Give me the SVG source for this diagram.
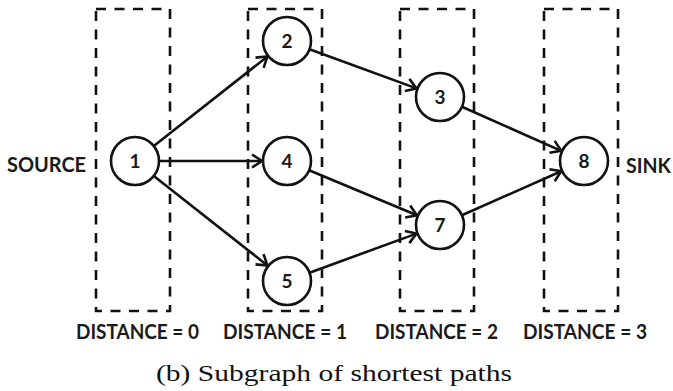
<svg xmlns="http://www.w3.org/2000/svg" width="673" height="391" viewBox="0 0 673 391">
<style>
.box{fill:none;stroke:#111;stroke-width:2.6;stroke-dasharray:10 8.5}
.node circle{fill:#fff;stroke:#111;stroke-width:2.6}
.node text{font-family:Lato,"Open Sans",sans-serif;font-weight:bold;font-size:19px;fill:#1a1a1a;text-anchor:middle}
.lbl{font-family:Lato,"Open Sans",sans-serif;font-weight:bold;fill:#1a1a1a}
.edges line{stroke:#111;stroke-width:2.6;marker-end:url(#arr)}
.cap{font-family:"Liberation Serif","DejaVu Serif",serif;font-size:23px;fill:#111}
</style>
<defs>
<marker id="arr" markerUnits="userSpaceOnUse" viewBox="-13 -9 16 18" markerWidth="16" markerHeight="18" refX="0" refY="0" orient="auto">
<path d="M-10,-6.5 L0,0 L-10,6.5" fill="none" stroke="#111" stroke-width="2.6" stroke-linejoin="miter"/>
</marker>
</defs>
<g id="columns">
<rect class="box" x="96" y="9" width="74" height="302"/>
<rect class="box" x="248" y="9" width="74" height="302"/>
<rect class="box" x="400" y="9" width="74" height="302"/>
<rect class="box" x="544" y="9" width="74" height="302"/>
</g>
<g id="connectors" class="edges">
<line x1="153.8" y1="146.1" x2="267.4" y2="56.5"/>
<line x1="159" y1="161" x2="262" y2="161"/>
<line x1="153.8" y1="175.9" x2="267.4" y2="265.5"/>
<line x1="309.5" y1="49.3" x2="416.5" y2="88.4"/>
<line x1="309.1" y1="170.3" x2="416.9" y2="215.3"/>
<line x1="309.5" y1="272.7" x2="416.5" y2="233.6"/>
<line x1="461.9" y1="106.7" x2="561.2" y2="150.9"/>
<line x1="461.9" y1="215.3" x2="561.2" y2="171.2"/>
</g>
<g id="n1" class="node"><circle cx="135" cy="161" r="24"/><text x="135" y="168">1</text></g>
<g id="n2" class="node"><circle cx="287" cy="41" r="24"/><text x="287" y="48">2</text></g>
<g id="n4" class="node"><circle cx="287" cy="161" r="24"/><text x="287" y="168">4</text></g>
<g id="n5" class="node"><circle cx="287" cy="281" r="24"/><text x="287" y="288">5</text></g>
<g id="n3" class="node"><circle cx="440" cy="97" r="24"/><text x="440" y="104">3</text></g>
<g id="n7" class="node"><circle cx="440" cy="225" r="24"/><text x="440" y="232">7</text></g>
<g id="n8" class="node"><circle cx="584" cy="161" r="24"/><text x="584" y="168">8</text></g>
<text class="lbl" x="7" y="171.5" font-size="21" textLength="79" lengthAdjust="spacingAndGlyphs">SOURCE</text>
<text class="lbl" x="626" y="172.5" font-size="21" textLength="45" lengthAdjust="spacingAndGlyphs">SINK</text>
<text class="lbl" x="76" y="339" font-size="20" textLength="123" lengthAdjust="spacingAndGlyphs">DISTANCE = 0</text>
<text class="lbl" x="223" y="339" font-size="20" textLength="124" lengthAdjust="spacingAndGlyphs">DISTANCE = 1</text>
<text class="lbl" x="375" y="339" font-size="20" textLength="123" lengthAdjust="spacingAndGlyphs">DISTANCE = 2</text>
<text class="lbl" x="523" y="339" font-size="20" textLength="124" lengthAdjust="spacingAndGlyphs">DISTANCE = 3</text>
<text class="cap" x="156" y="381" textLength="356" lengthAdjust="spacingAndGlyphs">(b) Subgraph of shortest paths</text>
</svg>
